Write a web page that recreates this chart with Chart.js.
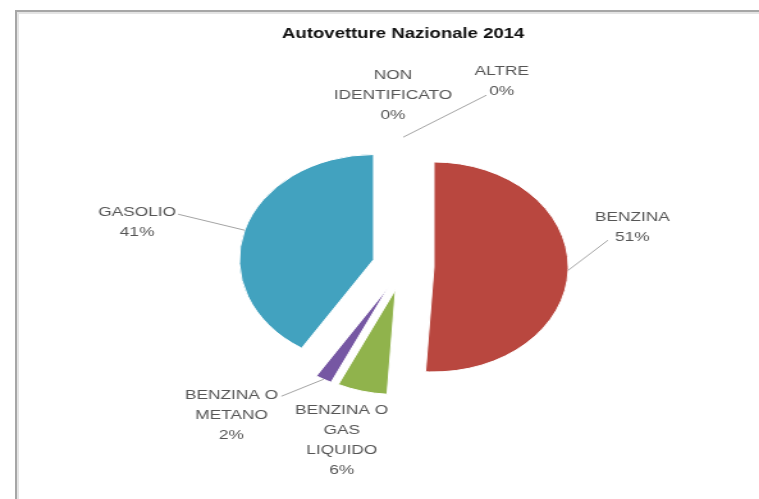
<!DOCTYPE html>
<html>
<head>
<meta charset="utf-8">
<script src="https://cdn.jsdelivr.net/npm/chart.js@4/dist/chart.umd.min.js"></script>
<style>
    html, body { margin: 0; padding: 0; background: #fff; overflow: hidden; }
    #frame {
        position: absolute; left: 15px; top: 10px; width: 800px; height: 600px;
        border-left: 2px solid #a6a6a6; border-top: 2px solid #a6a6a6;
        box-shadow: inset 2px 2px 0 #e4e4e4;
    }
    #wrap {
        position: absolute; left: 0; top: 0; width: 593px; height: 499px;
        transform: scaleX(1.28); transform-origin: 0 0;
    }
</style>
</head>
<body>
<div id="frame"></div>
<div id="wrap"><canvas id="myChart" width="593" height="499"></canvas></div>
<script>
// categories, one entry per line of the label
const categorie = [
    ['BENZINA'],
    ['BENZINA O', 'GAS', 'LIQUIDO'],
    ['BENZINA O', 'METANO'],
    ['GASOLIO'],
    ['NON', 'IDENTIFICATO'],
    ['ALTRE']
];
// share of cars, percent
const valori = [51, 6, 2, 41, 0, 0];
const colori = ['#b9473f', '#90b34c', '#7657a3', '#42a2bf', '#f79646', '#4f81bd'];

// where each label sits, relative to the outer edge of its slice: [dx, dy, lineX, lineY]
// lineX/lineY = end of the leader line (null = no line)
const posEtichette = [
    [50, -43, 31, -30],
    [-16, 49, null, null],
    [-72, 36, -33, 17],
    [-84, -8, -52, -16],
    [-8, -42, null, null],
    [77, -56, 65, -42]
];

const esploso = 24;

const explodePlugin = {
    id: 'explode',
    beforeDatasetsDraw(chart) {
        const area = chart.chartArea;
        const cx = (area.left + area.right) / 2;
        const cy = (area.top + area.bottom) / 2;
        chart.getDatasetMeta(0).data.forEach(a => {
            const mid = (a.startAngle + a.endAngle) / 2;
            a.x = cx + Math.cos(mid) * esploso;
            a.y = cy + Math.sin(mid) * esploso;
        });
    }
};

const labelPlugin = {
    id: 'etichette',
    afterDatasetsDraw(chart) {
        const ctx = chart.ctx;
        const meta = chart.getDatasetMeta(0);
        const data = chart.data.datasets[0].data;
        const tot = data.reduce((s, v) => s + v, 0);
        ctx.save();
        meta.data.forEach((a, i) => {
            const mid = (a.startAngle + a.endAngle) / 2;
            const ex = a.x + Math.cos(mid) * a.outerRadius;
            const ey = a.y + Math.sin(mid) * a.outerRadius;
            const p = posEtichette[i];
            if (p[2] !== null) {
                ctx.strokeStyle = '#a3a3a3';
                ctx.lineWidth = 1;
                ctx.beginPath();
                ctx.moveTo(ex, ey);
                ctx.lineTo(ex + p[2], ey + p[3]);
                ctx.stroke();
            }
            const righe = chart.data.labels[i].concat([Math.round(data[i] / tot * 100) + '%']);
            const lh = 20;
            const y0 = ey + p[1] - (righe.length - 1) * lh / 2;
            ctx.fillStyle = '#555555';
            ctx.font = '13.5px "Liberation Sans", Arial, sans-serif';
            ctx.textAlign = 'center';
            ctx.textBaseline = 'middle';
            righe.forEach((t, k) => ctx.fillText(t, ex + p[0], y0 + k * lh));
        });
        ctx.restore();
    }
};

const data = {
    labels: categorie,
    datasets: [{
            data: valori,
            backgroundColor: colori,
            borderColor: '#ffffff',
            borderWidth: 1,
            radius: 105,
            hoverOffset: 0
        }]
};
const config = {
    type: 'pie',
    data: data,
    options: {
        responsive: false,
        animation: false,
        layout: { padding: { left: 40, right: 3, top: 0, bottom: 19 } },
        plugins: {
            legend: { display: false },
            tooltip: { enabled: false },
            title: {
                display: true,
                text: 'Autovetture Nazionale 2014',
                color: '#111111',
                font: { family: '"Liberation Sans", Arial, sans-serif', size: 14.5, weight: 'bold' },
                padding: { top: 25, bottom: 10 }
            }
        }
    },
    plugins: [explodePlugin, labelPlugin]
};

let ctx = document.getElementById('myChart').getContext('2d');
new Chart(ctx, config);
</script>
</body>
</html>
